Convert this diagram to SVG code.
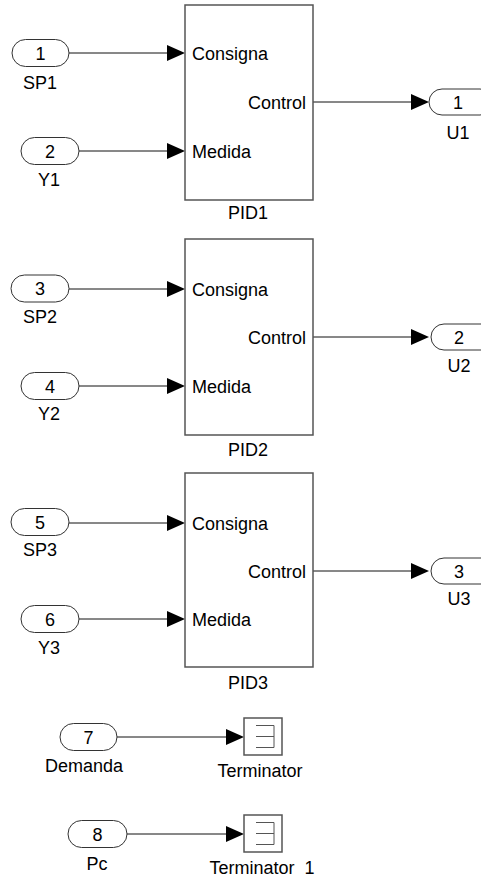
<svg xmlns="http://www.w3.org/2000/svg" width="481" height="877" viewBox="0 0 481 877">
<defs>
<style>
text{font-family:"Liberation Sans",Arial,sans-serif;font-size:18px;fill:#000}
.mid{text-anchor:middle}
.end{text-anchor:end}
.pill{fill:#fff;stroke:#333;stroke-width:1}
.blk{fill:#fff;stroke:#555;stroke-width:1.5}
.ln{stroke:#111;stroke-width:1;fill:none}
.ic{stroke:#555;stroke-width:1;fill:none}
.ah{fill:#000}
</style>
</defs>
<rect width="481" height="877" fill="#fff"/>
<g id="connectors">
<line class="ln" x1="69" y1="53" x2="170" y2="53"/><polygon class="ah" points="167,45 185,53 167,61"/>
<line class="ln" x1="79" y1="151" x2="170" y2="151"/><polygon class="ah" points="167,143 185,151 167,159"/>
<line class="ln" x1="313" y1="102" x2="414" y2="102"/><polygon class="ah" points="411,94 429,102 411,110"/>
<line class="ln" x1="69" y1="289" x2="170" y2="289"/><polygon class="ah" points="167,281 185,289 167,297"/>
<line class="ln" x1="79" y1="386" x2="170" y2="386"/><polygon class="ah" points="167,378 185,386 167,394"/>
<line class="ln" x1="313" y1="337" x2="414" y2="337"/><polygon class="ah" points="411,329 429,337 411,345"/>
<line class="ln" x1="69" y1="523" x2="170" y2="523"/><polygon class="ah" points="167,515 185,523 167,531"/>
<line class="ln" x1="79" y1="619" x2="170" y2="619"/><polygon class="ah" points="167,611 185,619 167,627"/>
<line class="ln" x1="313" y1="571" x2="414" y2="571"/><polygon class="ah" points="411,563 429,571 411,579"/>
<line class="ln" x1="117" y1="737" x2="229" y2="737"/><polygon class="ah" points="226,729 244,737 226,745"/>
<line class="ln" x1="127" y1="834" x2="229" y2="834"/><polygon class="ah" points="226,826 244,834 226,842"/>
</g>
<g id="in1"><rect class="pill" x="12" y="39.5" width="57" height="27" rx="13.5"/><text class="mid" x="40.5" y="59.5">1</text><text class="mid" x="40" y="88.5">SP1</text></g>
<g id="in2"><rect class="pill" x="21" y="137.5" width="58" height="27" rx="13.5"/><text class="mid" x="50" y="157.5">2</text><text class="mid" x="49" y="185.5">Y1</text></g>
<g id="pid1"><rect class="blk" x="185" y="5" width="128" height="195"/><text x="192" y="59.5">Consigna</text><text x="192" y="157.5">Medida</text><text class="end" x="306" y="108.5">Control</text><text class="mid" x="248" y="218.5">PID1</text></g>
<g id="out1"><rect class="pill" x="429" y="89" width="64" height="26" rx="13"/><text class="mid" x="458" y="108.5">1</text><text class="mid" x="458" y="138.5">U1</text></g>
<g id="in3"><rect class="pill" x="11" y="275" width="58" height="27" rx="13.5"/><text class="mid" x="40" y="295">3</text><text class="mid" x="40" y="322.5">SP2</text></g>
<g id="in4"><rect class="pill" x="21" y="372.5" width="58" height="27" rx="13.5"/><text class="mid" x="50" y="392.5">4</text><text class="mid" x="49" y="419.5">Y2</text></g>
<g id="pid2"><rect class="blk" x="185" y="239" width="128" height="196"/><text x="192" y="295.5">Consigna</text><text x="192" y="392.5">Medida</text><text class="end" x="306" y="343.5">Control</text><text class="mid" x="248" y="455.5">PID2</text></g>
<g id="out2"><rect class="pill" x="431" y="324" width="64" height="26" rx="13"/><text class="mid" x="459" y="343.5">2</text><text class="mid" x="459" y="371.5">U2</text></g>
<g id="in5"><rect class="pill" x="11" y="508.5" width="58" height="27" rx="13.5"/><text class="mid" x="40" y="528.5">5</text><text class="mid" x="40" y="555.5">SP3</text></g>
<g id="in6"><rect class="pill" x="21" y="605.5" width="58" height="27" rx="13.5"/><text class="mid" x="50" y="625.5">6</text><text class="mid" x="49" y="653.5">Y3</text></g>
<g id="pid3"><rect class="blk" x="185" y="473" width="128" height="194"/><text x="192" y="529.5">Consigna</text><text x="192" y="625.5">Medida</text><text class="end" x="306" y="577.5">Control</text><text class="mid" x="248" y="688.5">PID3</text></g>
<g id="out3"><rect class="pill" x="431" y="558" width="64" height="26" rx="13"/><text class="mid" x="459" y="577.5">3</text><text class="mid" x="459" y="604.5">U3</text></g>
<g id="in7"><rect class="pill" x="60" y="723.5" width="57" height="27" rx="13.5"/><text class="mid" x="88.5" y="743.5">7</text><text class="mid" x="84" y="771.5">Demanda</text></g>
<g id="term"><rect class="blk" x="244" y="718" width="38" height="37" stroke-width="1"/><path class="ic" d="M256,725.5H274V747.5H256M256,736.5H274"/><text class="mid" x="260" y="776.5">Terminator</text></g>
<g id="in8"><rect class="pill" x="68" y="820.5" width="59" height="27" rx="13.5"/><text class="mid" x="97.5" y="840.5">8</text><text class="mid" x="97" y="869.5">Pc</text></g>
<g id="term1"><rect class="blk" x="244" y="815" width="38" height="37" stroke-width="1"/><path class="ic" d="M256,822.5H274V844.5H256M256,833.5H274"/><text class="mid" x="262" y="873.5" xml:space="preserve">Terminator  1</text></g>
</svg>
